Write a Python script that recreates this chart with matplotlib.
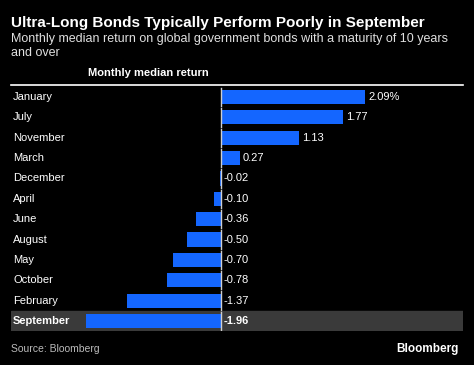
import matplotlib
matplotlib.use("Agg")
import matplotlib.pyplot as plt
from matplotlib.transforms import blended_transform_factory

months = ["January", "July", "November", "March", "December", "April",
          "June", "August", "May", "October", "February", "September"]
values = [2.09, 1.77, 1.13, 0.27, -0.02, -0.10, -0.36, -0.50, -0.70, -0.78, -1.37, -1.96]
labels = ["2.09%", "1.77", "1.13", "0.27", "-0.02", "-0.10", "-0.36", "-0.50",
          "-0.70", "-0.78", "-1.37", "-1.96"]
highlight = "September"

W, H = 474, 365
plt.rcParams['font.family'] = ['Liberation Sans', 'DejaVu Sans']
fig = plt.figure(figsize=(W/100, H/100), dpi=100, facecolor='black')

def fx(px): return px / W
def fy(py): return 1 - py / H

# axes region in pixels
left, right, top, bottom = 11, 463, 86.8, 331.2
ax = fig.add_axes([fx(left), fy(bottom), fx(right) - fx(left), (bottom - top) / H])
ax.set_facecolor('black')
scale = 68.9
ax.set_xlim((left - 221) / scale, (right - 221) / scale)
ax.set_ylim(len(months) - 0.5, -0.5)
for s in ax.spines.values():
    s.set_visible(False)
ax.set_xticks([]); ax.set_yticks([])

idx = list(range(len(months)))
hi = months.index(highlight)
ax.axhspan(hi - 0.5, hi + 0.5, color='#3a3a3a', zorder=0)

ax.barh(idx, values, height=0.7, color='#1466ff', zorder=2)
for i in idx:
    ax.plot([0, 0], [i - 0.45, i + 0.45], color='#cfcfcf', lw=1, zorder=3)

trans = blended_transform_factory(ax.transAxes, ax.transData)
off = 3 / scale
for i, (m, v, lab) in enumerate(zip(months, values, labels)):
    bold = (m == highlight)
    ax.text(2 / (right - left), i, m, transform=trans, color='white', fontsize=8,
            va='center', ha='left', fontweight='bold' if bold else 'normal')
    x = (v if v > 0 else 0) + off
    ax.text(x, i, lab, color='white', fontsize=8, va='center', ha='left',
            fontweight='bold' if bold else 'normal')

# top rule
fig.add_artist(plt.Line2D([fx(11), fx(463)], [fy(85), fy(85)], color='white', lw=1.2))
fig.text(fx(148), fy(73), "Monthly median return", color='white', fontsize=8,
         fontweight='bold', ha='center', va='center')

fig.text(fx(11), fy(23), "Ultra-Long Bonds Typically Perform Poorly in September",
         color='white', fontsize=11, fontweight='bold', ha='left', va='center')
fig.text(fx(11), fy(39), "Monthly median return on global government bonds with a maturity of 10 years",
         color='#e0e0e0', fontsize=9, ha='left', va='center')
fig.text(fx(11), fy(53), "and over", color='#e0e0e0', fontsize=9, ha='left', va='center')

fig.text(fx(11), fy(349), "Source: Bloomberg", color='#bbbbbb', fontsize=7.5, ha='left', va='center')
fig.text(fx(459), fy(349), "Bloomberg", color='white', fontsize=8.5, fontweight='bold',
         ha='right', va='center')

fig.savefig("out.png", dpi=100, facecolor='black')
